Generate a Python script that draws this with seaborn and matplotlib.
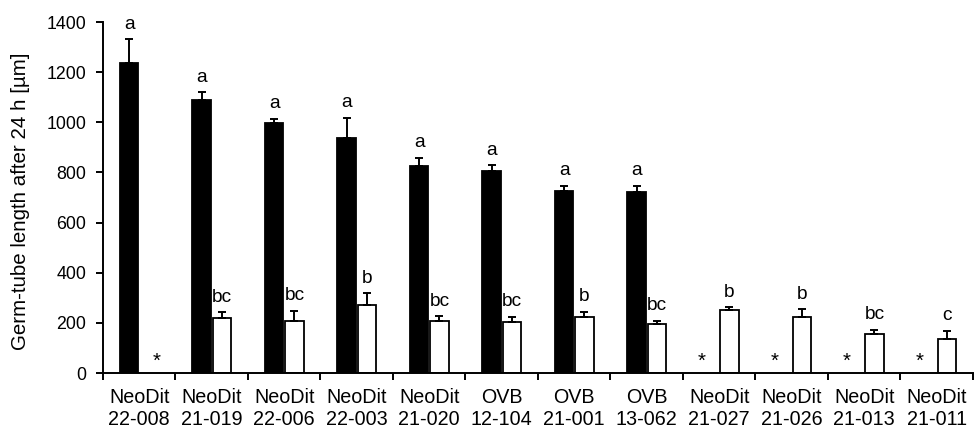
import numpy as np
import pandas as pd
import seaborn as sns
import matplotlib.pyplot as plt

# strains on the x axis (two-line labels)
strains = ['NeoDit\n22-008', 'NeoDit\n21-019', 'NeoDit\n22-006', 'NeoDit\n22-003',
           'NeoDit\n21-020', 'OVB\n12-104', 'OVB\n21-001', 'OVB\n13-062',
           'NeoDit\n21-027', 'NeoDit\n21-026', 'NeoDit\n21-013', 'NeoDit\n21-011']

# black bars
dark_mean = [1235, 1089, 996, 939, 826, 806, 727, 723, np.nan, np.nan, np.nan, np.nan]
dark_se = [96, 31, 18, 79, 32, 24, 20, 24, np.nan, np.nan, np.nan, np.nan]
dark_letters = ['a', 'a', 'a', 'a', 'a', 'a', 'a', 'a', '*', '*', '*', '*']

# white bars
light_mean = [np.nan, 219, 209, 272, 209, 205, 222, 197, 251, 225, 157, 134]
light_se = [np.nan, 23, 40, 46, 18, 20, 23, 12, 11, 29, 16, 35]
light_letters = ['*', 'bc', 'bc', 'b', 'bc', 'bc', 'b', 'bc', 'b', 'b', 'bc', 'c']

sns.set_style('ticks', {'axes.edgecolor': 'black', 'text.color': 'black',
                        'xtick.color': 'black', 'ytick.color': 'black',
                        'axes.labelcolor': 'black'})
plt.rcParams['font.family'] = ['Liberation Sans', 'DejaVu Sans']
FS = 13.8

df = pd.DataFrame({
    'strain': strains * 2,
    'length': dark_mean + light_mean,
    'se': dark_se + light_se,
    'letter': dark_letters + light_letters,
    'series': ['dark'] * len(strains) + ['light'] * len(strains),
})

fig = plt.figure(figsize=(9.77, 4.29), dpi=100)
ax = fig.add_axes([0.1054, 0.1305, 0.8905, 0.8182])

sns.barplot(data=df.dropna(subset=['length']), x='strain', y='length', hue='series',
            order=strains, hue_order=['dark', 'light'],
            palette={'dark': 'black', 'light': 'white'}, edgecolor='black',
            linewidth=1.3, width=0.56, gap=0.1, errorbar=None, legend=False, ax=ax)

# error bars (upward only) and significance letters, positioned from the drawn bars
for p in ax.patches:
    xc = p.get_x() + p.get_width() / 2
    h = p.get_height()
    i = int(round(xc))
    is_dark = xc < i
    se = dark_se[i] if is_dark else light_se[i]
    letter = dark_letters[i] if is_dark else light_letters[i]
    ax.errorbar(xc, h, yerr=[[0], [se]], fmt='none', ecolor='black',
                elinewidth=1.4, capsize=3, capthick=1.4, zorder=3)
    ax.annotate(letter, (xc, h + se), xytext=(0, 7.5), textcoords='offset points',
                ha='center', va='baseline', fontsize=FS)

# asterisks where a bar is missing
for i in range(len(strains)):
    if np.isnan(dark_mean[i]):
        ax.text(i - 0.24, 25, dark_letters[i], ha='center', va='baseline', fontsize=FS + 1)
    if np.isnan(light_mean[i]):
        ax.text(i + 0.24, 25, light_letters[i], ha='center', va='baseline', fontsize=FS + 1)

ax.set_ylim(0, 1400)
ax.set_yticks(np.arange(0, 1401, 200))
ax.set_xlim(-0.5, len(strains) - 0.5)
ax.set_xticks(range(len(strains)))
ax.set_xticklabels(strains)
ax.set_xticks(np.arange(-0.5, len(strains)), minor=True)
ax.tick_params(axis='x', which='major', length=0, pad=11, labelsize=14.2)
ax.tick_params(axis='x', which='minor', length=5, width=1.4, direction='out')
ax.tick_params(axis='y', length=5, width=1.4, pad=7, labelsize=12.8)

ax.set_xlabel('')
ax.set_ylabel('Germ-tube length after 24 h [µm]', fontsize=14.8)
ax.yaxis.set_label_coords(-0.084, 0.49)

sns.despine(ax=ax)
for s in ['left', 'bottom']:
    ax.spines[s].set_linewidth(1.4)

fig.savefig('out.png', dpi=100)
